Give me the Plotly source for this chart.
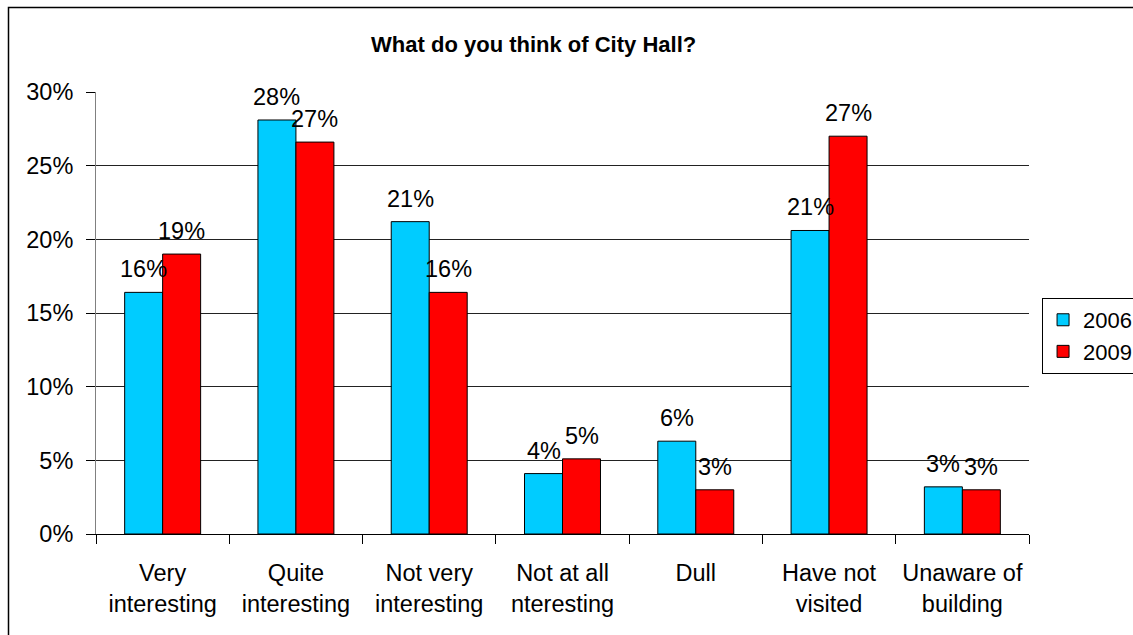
import plotly.graph_objects as go

categories = ["Very interesting", "Quite interesting", "Not very interesting",
              "Not at all nteresting", "Dull", "Have not visited", "Unaware of building"]
tick_labels = ["Very<br>interesting", "Quite<br>interesting", "Not very<br>interesting",
               "Not at all<br>nteresting", "Dull", "Have not<br>visited", "Unaware of<br>building"]
values_2006 = [16.4, 28.1, 21.2, 4.1, 6.3, 20.6, 3.2]
values_2009 = [19.0, 26.6, 16.4, 5.1, 3.0, 27.0, 3.0]
y_ticks = [0, 5, 10, 15, 20, 25, 30]
y_tick_labels = ["0%", "5%", "10%", "15%", "20%", "25%", "30%"]

FONT = "Liberation Sans, Arial, sans-serif"
FS = 23.5

fig = go.Figure()
fig.add_trace(go.Bar(name="2006", x=categories, y=values_2006,
                     marker=dict(color="#00CCFF", line=dict(color="black", width=1))))
fig.add_trace(go.Bar(name="2009", x=categories, y=values_2009,
                     marker=dict(color="#FF0000", line=dict(color="black", width=1))))

annotations = []
for vals, shift in ((values_2006, -19), (values_2009, 19)):
    for c, v in zip(categories, vals):
        annotations.append(dict(x=c, y=v, xref="x", yref="y", text=f"{v:.0f}%",
                                showarrow=False, xshift=shift, yshift=8, yanchor="bottom",
                                font=dict(family=FONT, size=FS, color="black")))

fig.update_layout(
    width=1133, height=635,
    margin=dict(l=96, r=104, t=92, b=101, autoexpand=False),
    paper_bgcolor="white", plot_bgcolor="white",
    barmode="group", bargap=0.43, bargroupgap=0,
    font=dict(family=FONT, size=FS, color="black"),
    title=dict(text="What do you think of City Hall?", x=0.471, xanchor="center",
               y=0.931, yanchor="middle",
               font=dict(family=FONT, size=22, color="black", weight="bold")),
    showlegend=True,
    legend=dict(x=1.014, y=0.534, xanchor="left", yanchor="top",
                bgcolor="white", bordercolor="black", borderwidth=1,
                font=dict(family=FONT, size=22, color="black"), tracegroupgap=0),
    annotations=annotations,
    shapes=[dict(type="rect", xref="paper", yref="paper",
                 x0=(8.5 - 96) / 933, x1=1.3, y0=-0.3, y1=(534 - 7.5) / 442,
                 line=dict(color="black", width=1.5), fillcolor="rgba(0,0,0,0)", layer="below")],
)

fig.update_xaxes(tickvals=categories, ticktext=tick_labels, showline=True, linecolor="black",
                 linewidth=1, ticks="outside", tickson="boundaries", ticklen=9, tickcolor="black",
                 showgrid=False, ticklabelstandoff=18, tickfont=dict(size=FS))
fig.update_yaxes(range=[0, 30], tickvals=y_ticks, ticktext=y_tick_labels, showline=True,
                 linecolor="#808080", linewidth=1, ticks="outside", ticklen=9, tickcolor="black",
                 showgrid=True, gridcolor="#222222", gridwidth=1, zeroline=False,
                 ticklabelstandoff=8, tickfont=dict(size=FS))

fig.write_html("out.html", config={"displayModeBar": False},
               post_script="document.body.style.margin='0';"
                           "document.body.style.overflow='hidden';"
                           "document.documentElement.style.overflow='hidden';")
